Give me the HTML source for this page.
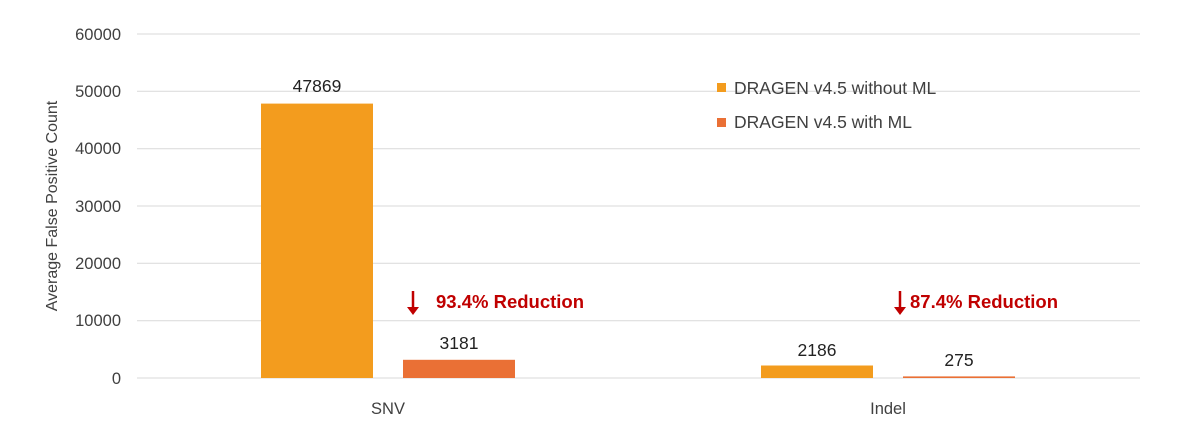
<!DOCTYPE html>
<html><head><style>body{margin:0;background:#fff}svg{display:block}text{font-family:"Liberation Sans",sans-serif}</style></head>
<body>
<svg width="1200" height="433" viewBox="0 0 1200 433" xmlns="http://www.w3.org/2000/svg">
<g stroke="#d9d9d9" stroke-width="1">
<line x1="137" y1="34" x2="1140" y2="34"/><line x1="137" y1="91.3" x2="1140" y2="91.3"/>
<line x1="137" y1="148.7" x2="1140" y2="148.7"/><line x1="137" y1="206" x2="1140" y2="206"/>
<line x1="137" y1="263.3" x2="1140" y2="263.3"/><line x1="137" y1="320.7" x2="1140" y2="320.7"/>
<line x1="137" y1="378" x2="1140" y2="378"/>
</g>
<g font-size="16.5" fill="#404040" text-anchor="end">
<text x="121" y="40">60000</text><text x="121" y="97">50000</text><text x="121" y="154">40000</text>
<text x="121" y="212">30000</text><text x="121" y="269">20000</text><text x="121" y="326">10000</text>
<text x="121" y="384">0</text>
</g>
<text transform="translate(57,206) rotate(-90)" font-size="16" fill="#404040" text-anchor="middle">Average False Positive Count</text>
<rect x="261" y="103.6" width="112" height="274.4" fill="#f39c1e"/>
<rect x="403" y="359.8" width="112" height="18.2" fill="#ea7035"/>
<rect x="761" y="365.5" width="112" height="12.5" fill="#f39c1e"/>
<rect x="903" y="376.4" width="112" height="1.6" fill="#ea7035"/>
<g font-size="17.5" fill="#222" text-anchor="middle">
<text x="317" y="92">47869</text><text x="459" y="349">3181</text>
<text x="817" y="356">2186</text><text x="959" y="366">275</text>
</g>
<g font-size="16.5" fill="#404040" text-anchor="middle">
<text x="388" y="414">SNV</text><text x="888" y="414">Indel</text>
</g>
<rect x="717" y="83" width="9" height="9" fill="#f39c1e"/>
<rect x="717" y="118" width="9" height="9" fill="#ea7035"/>
<g font-size="17.5" fill="#404040">
<text x="734" y="94">DRAGEN v4.5 without ML</text><text x="734" y="128">DRAGEN v4.5 with ML</text>
</g>
<g fill="#c00000" stroke="#c00000">
<line x1="413" y1="291" x2="413" y2="309" stroke-width="2.5"/><path d="M407 307 L419 307 L413 315 Z" stroke="none"/>
<line x1="900" y1="291" x2="900" y2="309" stroke-width="2.5"/><path d="M894 307 L906 307 L900 315 Z" stroke="none"/>
</g>
<g font-size="18.5" font-weight="bold" fill="#c00000">
<text x="436" y="308">93.4% Reduction</text><text x="910" y="308">87.4% Reduction</text>
</g>
</svg>
</body></html>
